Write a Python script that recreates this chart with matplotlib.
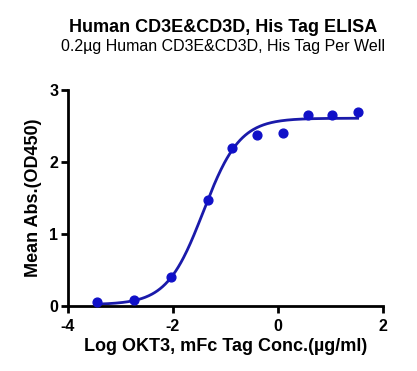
import numpy as np
import matplotlib
matplotlib.use("Agg")
import matplotlib.pyplot as plt

plt.rcParams['font.family'] = ['Liberation Sans', 'DejaVu Sans']
plt.rcParams['axes.unicode_minus'] = False

log_conc = [-3.44, -2.74, -2.04, -1.34, -0.87, -0.39, 0.09, 0.57, 1.04, 1.52]
od450 = [0.05, 0.09, 0.40, 1.47, 2.20, 2.37, 2.41, 2.66, 2.66, 2.69]

# 4PL fit parameters
bottom, top, log_ec50, hill = 0.02, 2.61, -1.42, 1.25

fig = plt.figure(figsize=(4.17, 3.71), dpi=100)
ax = fig.add_axes([0.163, 0.175, 0.755, 0.582])

xf = np.linspace(min(log_conc), max(log_conc), 300)
yf = bottom + (top - bottom) / (1 + 10 ** ((log_ec50 - xf) * hill))
ax.plot(xf, yf, color='#1A1AAA', lw=2.0, zorder=2)
ax.scatter(log_conc, od450, s=40, color='#1010C8', zorder=3, clip_on=False)

ax.set_xlim(-4, 2)
ax.set_ylim(0, 3)
ax.set_xticks([-4, -2, 0, 2])
ax.set_yticks([0, 1, 2, 3])
for s in ['top', 'right']:
    ax.spines[s].set_visible(False)
for s in ['left', 'bottom']:
    ax.spines[s].set_linewidth(2.0)
ax.tick_params(width=2.0, length=5, labelsize=11.5)
ax.tick_params(axis='x', pad=4)
ax.tick_params(axis='y', pad=2)
for lab in ax.get_xticklabels() + ax.get_yticklabels():
    lab.set_fontweight('bold')

ax.set_xlabel('Log OKT3, mFc Tag Conc.(\u00b5g/ml)', fontsize=13, fontweight='bold', labelpad=3)
ax.set_ylabel('Mean Abs.(OD450)', fontsize=13, fontweight='bold', labelpad=5)

fig.text(0.535, 0.927, 'Human CD3E&CD3D, His Tag ELISA', ha='center', va='center',
         fontsize=13, fontweight='bold')
fig.text(0.535, 0.875, '0.2\u00b5g Human CD3E&CD3D, His Tag Per Well', ha='center', va='center',
         fontsize=11.5)

fig.savefig('out.png', dpi=100)
